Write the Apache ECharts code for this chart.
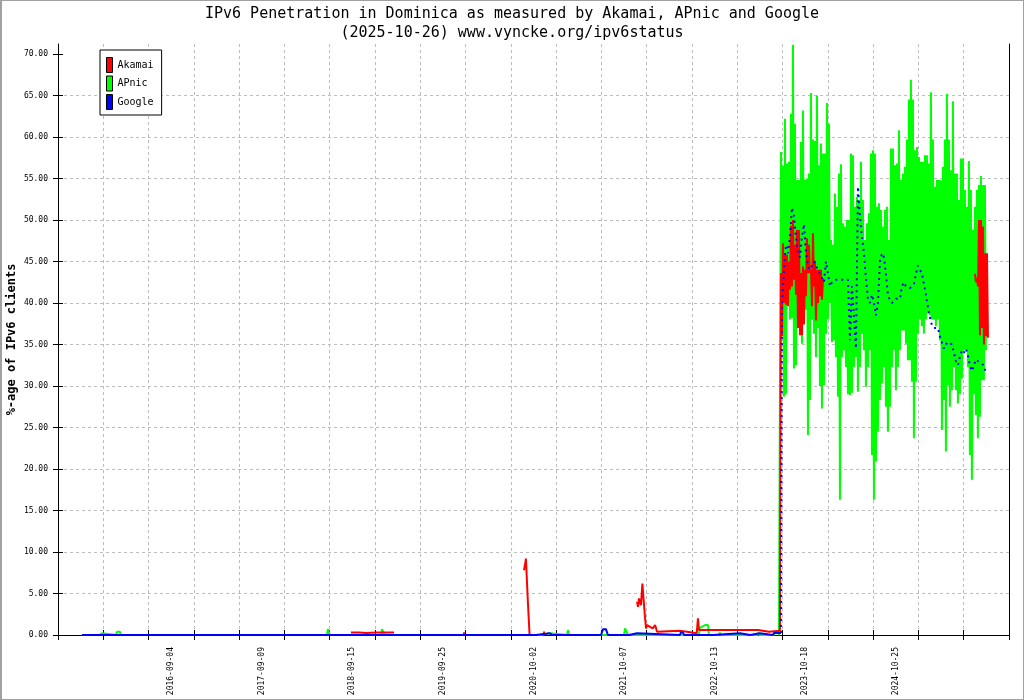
<!DOCTYPE html>
<html><head><meta charset="utf-8">
<script src="https://cdn.jsdelivr.net/npm/echarts@6/dist/echarts.min.js"></script>
<style>
html,body{margin:0;padding:0;background:#fff}
#wrap{position:relative;width:1024px;height:700px}
#c{width:1024px;height:700px}
#frame{position:absolute;left:0;top:0;width:1024px;height:700px;box-sizing:border-box;border:1px solid #a0a0a0;border-left-width:2px;pointer-events:none}
</style>
</head><body>
<div id="wrap"><div id="c"></div><div id="frame"></div></div>
<script>
// ---- Axis definitions (x in days since 2015-05-28) ----
const X_SPAN_DAYS = 3886;
const Y_MAX = 71.2;
const yTickValues = [0,5,10,15,20,25,30,35,40,45,50,55,60,65,70];
const xTickLabels = ['', '', '2016-09-04', '', '2017-09-09', '', '2018-09-15', '', '2019-09-25', '', '2020-10-02', '', '2021-10-07', '', '2022-10-13', '', '2023-10-18', '', '2024-10-25', '', ''];
const seriesNames = ['Akamai', 'APnic', 'Google'];

// ---- Low period: [day, %] ----
const apnicLow = [[98,0],[168,0],[172,0.2],[180,0.2],[184,0],[237,0],[241,0.4],[253,0.4],[257,0],[503,0],[507,0.2],[511,0],[556,0],[560,0.1],[564,0],[1099,0],[1103,0.7],[1107,0.7],[1111,0],[1320,0],[1324,0.7],[1332,0.7],[1336,0],[1802,0],[1806,0.2],[1810,0],[1970,0],[1974,0.2],[2010,0.2],[2014,0],[2080,0],[2084,0.6],[2088,0],[2313,0],[2317,0.8],[2325,0.8],[2329,0],[2619,0],[2623,0.9],[2631,0.9],[2644,1.2],[2656,1.2],[2660,0],[2701,0],[2705,0.3],[2709,0],[2858,0],[2862,0.3],[2866,0],[2925,0],[2929,0.4],[2941,0.4],[2946,0]];
const akamaiLow = [[1197,0.3],[1230,0.3],[1260,0.25],[1300,0.3],[1340,0.3],[1373,0.3],[1375,null],[1655,0.2],[1663,0.2],[1665,null],[1904,7.8],[1908,8.4],[1912,9.2],[1917,9.0],[1920,4.0],[1925,3.8],[1927,0],[1931,null],[1982,0.3],[1990,0.3],[1994,null],[2366,4.0],[2370,3.4],[2374,4.4],[2382,3.6],[2388,6.2],[2392,4.6],[2399,2.0],[2403,0.8],[2407,1.2],[2430,0.8],[2440,1.2],[2448,0.4],[2540,0.5],[2570,0.4],[2576,0.2],[2610,0.2],[2615,2.0],[2619,0.6],[2623,0.5],[2705,0.6],[2860,0.6],[2868,0.4],[2905,0.4],[2909,0.5],[2950,0.5]];
const googleLow = [[98,0],[1953,0],[1961,0.2],[2010,0.2],[2019,0],[2219,0],[2227,0.7],[2239,0.7],[2247,0],[2333,0],[2337,0.2],[2366,0.2],[2370,0],[2541,0],[2545,0.3],[2554,0.3],[2558,0],[2676,0],[2680,0.2],[2787,0.2],[2791,0],[2828,0],[2832,0.2],[2868,0.2],[2872,0],[2921,0],[2926,0.25],[2954,0.25]];

// ---- High period: sampled every 8.17 days, [max, min] per sample ----
const HIGH_STEP = 8.17;
const apnicHighStart = 2954.2;
const apnicHigh = [[58.2,38],[56.5,28.7],[62.2,29],[56.8,40],[57,38],[62.8,38.2],[71.1,32.1],[61.6,32.5],[54.8,38],[54.8,39.6],
[59.4,35.1],[63.2,38],[54.8,39.2],[55,24.1],[55.6,28.3],[65.3,38],[59.7,36.3],[59.5,33.5],[65,37],[56.6,30],
[59.2,27.3],[58,30.1],[58,36.3],[64.1,38],[61.6,40],[47.6,35.3],[47,35.5],[53.2,33.5],[51.6,28.7],[55.6,16.3],
[56.7,33.5],[49.6,34.3],[49.2,32.3],[50,29],[50,28.9],[58,29.2],[57.8,32.3],[51.6,33.5],[52.8,29.3],[52.4,32.3],
[57,36.3],[52.4,34.3],[47.6,29.9],[49.6,32.3],[50.8,34.3],[58,21.7],[58.4,16.3],[58,20.9],[51.6,24.5],[52,28.3],
[51.2,30.3],[49.2,32.3],[51.2,27.5],[51.6,24.5],[47.6,27.5],[58.6,32.3],[58.6,34.3],[56.6,29.5],[56.8,32.3],[60.8,34.3],
[54.8,36.7],[55.6,36.7],[56.4,35.1],[59.7,33.1],[64.5,33.1],[66.9,30.5],[64.5,23.7],[58.4,30.5],[58.8,36.3],[57.6,38],
[57,37.2],[57,36.3],[57.8,38],[57.8,38.7],[56.8,38.5],[65.4,38],[59.7,38],[54,37.2],[54.8,38],[54.8,35.5],
[54.8,24.7],[56.4,28.3],[59.7,22.1],[65.2,30.1],[59.7,27.5],[56,29.5],[64.3,32.3],[55.6,29.5],[55.6,27.9],[52.4,29],
[57.4,30.9],[57.4,34.3],[53.6,34.3],[51.6,32.3],[57.1,21.7],[53.6,18.7],[48.8,29],[51.6,26.5],[53.6,23.7],[54.2,26.3],
[55.3,30.7],[54.2,30.7],[54.2,34.3]];
const akamaiHighStart = 2954.2;
const akamaiHigh = [[43.6,36],[47.2,40],[46,39.8],[45.8,39.6],[45,41.6],[49.3,42],[50,42.8],[47,41],[48.8,37],[48.8,36.1],
[43.6,36.1],[44.4,37.4],[44,40.8],[47.8,43.6],[47,43.6],[44,39.6],[48.4,42],[45.1,37.9],[44,40],[44,40.8],[44,40.4],[42.8,42.8]];
const akamaiEndStart = 3747;
const akamaiEnd = [[43.5,42.5],[43,42],[50,36.1],[50,37],[49.2,35],[46,36],[46,35.8]];
const googleHighStart = 2958.3;
const googleHigh = [40,44,47,46,48,51.5,50.5,48,46,45.5,48,49.5,46,44.5,44,44,45,44.5,44,43.5,
43,42.5,45,43.5,42,42.5,42.5,42.8,42.8,42.8,42.8,42.8,42.8,42.8,35.5,42,42,34.5,54,50.5,
48,46,43,40.5,40,41,40,38.5,40,45,46,45.5,43.5,41,40.3,40,40,40.5,40.5,40.5,
42,42.5,42,41.8,41.8,42,42.3,43.5,44.5,44.3,43.5,42.3,41,39.5,38.3,37.3,37,37,37,36,
35.2,34.5,35,35.3,35.5,35,34,33,32.5,33.5,34.3,34,34.5,33.7,32.5,31.8,32.5,33.2,33.3,32.8,
32.7,32.5,31.5];

function zigzag(start, step, pairs) {
  const out = [];
  pairs.forEach((p, i) => {
    const d = start + i * step;
    out.push([d, p[0]]);
    out.push([d + step / 2, p[1]]);
  });
  return out;
}
function regular(start, step, vals) { return vals.map((v, i) => [start + i * step, v]); }

const apnicData = apnicLow.concat(zigzag(apnicHighStart, HIGH_STEP, apnicHigh));
const akamaiData = akamaiLow.concat(zigzag(akamaiHighStart, HIGH_STEP, akamaiHigh), [[3135, null]], zigzag(akamaiEndStart, HIGH_STEP, akamaiEnd));
const googleHighData = [googleLow[googleLow.length - 1]].concat(regular(googleHighStart, HIGH_STEP, googleHigh));

const MONO = '"DejaVu Sans Mono", "Liberation Mono", monospace';
const GRID_LINE = {color: '#bdbdbd', type: [3, 3], width: 1};

const chart = echarts.init(document.getElementById('c'), null, {renderer: 'canvas'});
chart.setOption({
  animation: false,
  backgroundColor: '#fff',
  title: [
    {text: 'IPv6 Penetration in Dominica as measured by Akamai, APnic and Google', left: 'center', top: 2,
     textStyle: {fontFamily: MONO, fontSize: 15, fontWeight: 'normal', color: '#000'}},
    {text: '(2025-10-26) www.vyncke.org/ipv6status', left: 'center', top: 21,
     textStyle: {fontFamily: MONO, fontSize: 15, fontWeight: 'normal', color: '#000'}}
  ],
  legend: {
    data: seriesNames, orient: 'vertical', left: 100, top: 50,
    itemWidth: 6, itemHeight: 15, itemGap: 2.5, padding: [7, 8, 5, 6],
    borderColor: '#000', borderWidth: 1, backgroundColor: '#fff', borderRadius: 0,
    icon: 'rect', itemStyle: {borderColor: '#000', borderWidth: 1},
    textStyle: {fontFamily: MONO, fontSize: 10, color: '#000'},
    selectedMode: false
  },
  grid: {left: 58, right: 15, top: 44, bottom: 65, containLabel: false, outerBoundsMode: 'none'},
  xAxis: [
    {type: 'value', min: 0, max: X_SPAN_DAYS, show: false},
    {type: 'category', data: xTickLabels, boundaryGap: true, position: 'bottom',
     axisLine: {show: true, onZero: false, lineStyle: {color: '#000', width: 1}},
     axisTick: {show: true, interval: 0, length: 5, lineStyle: {color: '#000'}},
     axisLabel: {interval: 0, rotate: 90, fontFamily: MONO, fontSize: 8, color: '#000', margin: 12},
     splitLine: {show: true, interval: 0, lineStyle: GRID_LINE}},
    {type: 'category', data: xTickLabels, boundaryGap: true, position: 'bottom',
     axisLine: {show: false}, axisTick: {show: true, inside: true, interval: 0, length: 5, lineStyle: {color: '#000'}},
     axisLabel: {show: false}, splitLine: {show: false}}
  ],
  yAxis: [
    {type: 'value', min: 0, max: Y_MAX, interval: 5, position: 'left',
     axisLine: {show: true, lineStyle: {color: '#000', width: 1}},
     axisTick: {show: true, length: 5, customValues: yTickValues, lineStyle: {color: '#000'}},
     axisLabel: {customValues: yTickValues, formatter: v => (v % 5 === 0 ? v.toFixed(2) : ''), fontFamily: MONO, fontSize: 8, color: '#000', margin: 10},
     splitLine: {show: true, showMaxLine: false, lineStyle: GRID_LINE},
     name: '%-age of IPv6 clients', nameLocation: 'middle', nameGap: 40, nameMoveOverlap: false,
     nameTextStyle: {fontFamily: MONO, fontSize: 12, fontWeight: 'bold', color: '#000'}},
    {type: 'value', min: 0, max: Y_MAX, interval: 5, position: 'left',
     axisLine: {show: false},
     axisTick: {show: true, inside: true, length: 5, customValues: yTickValues, lineStyle: {color: '#000'}},
     axisLabel: {show: false}, splitLine: {show: false}},
    {type: 'value', min: 0, max: Y_MAX, position: 'right',
     axisLine: {show: true, lineStyle: {color: '#000', width: 1}},
     axisTick: {show: false}, axisLabel: {show: false}, splitLine: {show: false}}
  ],
  series: [
    {name: 'APnic', type: 'line', data: apnicData, xAxisIndex: 0, yAxisIndex: 0, symbol: 'none', showSymbol: false,
     color: '#00ff00', itemStyle: {color: '#00ff00'}, lineStyle: {color: '#00ff00', width: 2}, z: 2},
    {name: 'Akamai', type: 'line', data: akamaiData, xAxisIndex: 0, yAxisIndex: 0, symbol: 'none', showSymbol: false,
     color: '#ff0000', itemStyle: {color: '#ff0000'}, lineStyle: {color: '#ff0000', width: 2}, z: 3},
    {name: 'Google', type: 'line', data: googleLow, xAxisIndex: 0, yAxisIndex: 0, symbol: 'none', showSymbol: false,
     color: '#0000ff', itemStyle: {color: '#0000ff'}, lineStyle: {color: '#0000ff', width: 2}, z: 4},
    {name: 'Google', type: 'line', data: googleHighData, xAxisIndex: 0, yAxisIndex: 0, symbol: 'none', showSymbol: false,
     color: '#0000ff', itemStyle: {color: '#0000ff'}, lineStyle: {color: '#0000ff', width: 2, type: [2, 4]}, z: 4}
  ]
});
</script>
</body></html>
